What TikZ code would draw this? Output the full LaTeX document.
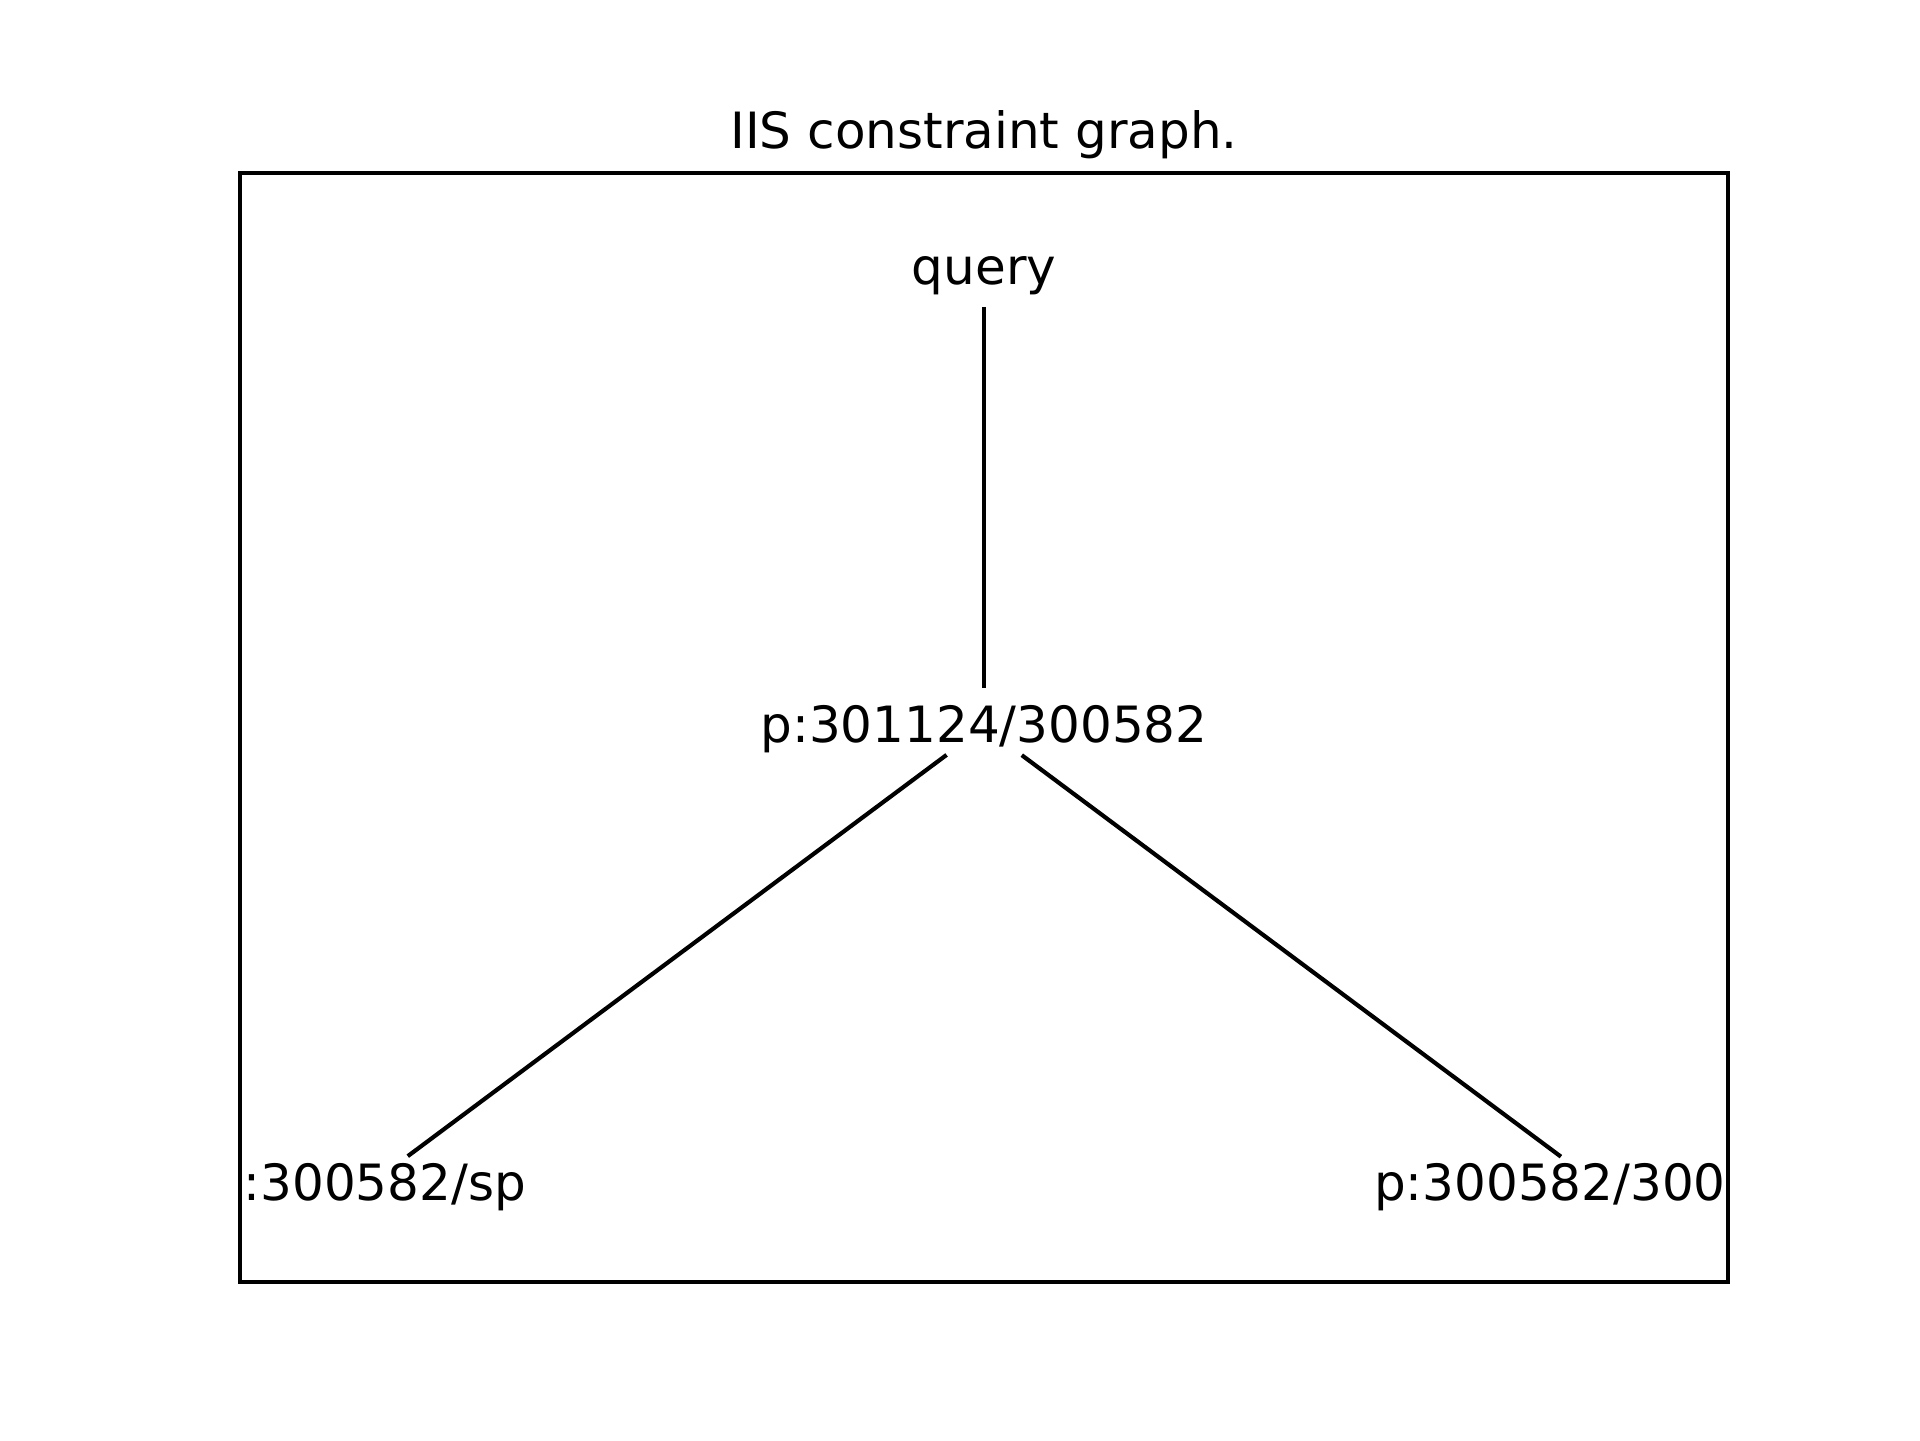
\documentclass[tikz,border=0pt]{standalone}
\usepackage{fontspec}
\setmainfont{DejaVu Sans}
\begin{document}
\begin{tikzpicture}[x=0.24bp,y=-0.24bp,
  font=\fontsize{12bp}{14bp}\selectfont,
  lbl/.style={inner sep=0pt, text height=9.6bp, text depth=2.4bp},
  edge/.style={line width=1bp, line cap=butt},
  frame/.style={line width=0.8bp}]
\useasboundingbox (0,0) rectangle (1920,1440);
\node[inner sep=0pt, anchor=base] (title) at (984,148) {IIS constraint graph.};
\draw[frame] (240,173) rectangle (1728,1282);
\node[lbl] (q) at (984,269) {query};
\node[lbl] (m) at (984,727) {p:301124/300582};
\node[lbl, text width=75.4bp, align=right] (l) at (369,1185) {:300582/sp};
\node[lbl, text width=108bp, align=left] (r) at (1599,1185) {p:300582/300};
\draw[edge, shorten <=9.1bp, shorten >=9.4bp] (q.center) -- (m.center);
\draw[edge, shorten <=11.2bp, shorten >=11.6bp] (m.center) -- (l.center);
\draw[edge, shorten <=11.3bp, shorten >=11.4bp] (m.center) -- (r.center);
\end{tikzpicture}
\end{document}
